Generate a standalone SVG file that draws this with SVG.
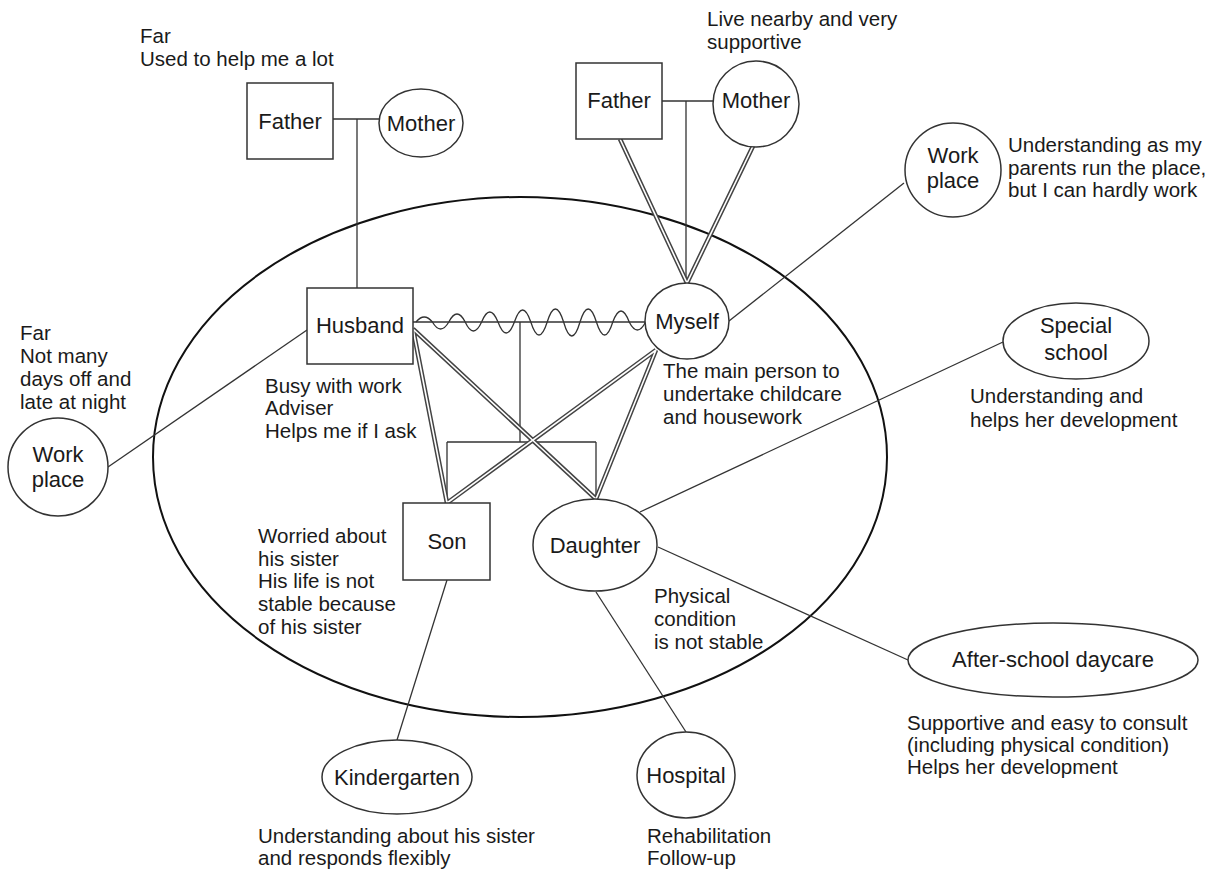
<svg xmlns="http://www.w3.org/2000/svg" width="1217" height="873" viewBox="0 0 1217 873">
<defs>
<style>
.t{font-family:"Liberation Sans",Arial,sans-serif;font-size:20.5px;fill:#1a1a1a}
.n{font-family:"Liberation Sans",Arial,sans-serif;font-size:22px;fill:#1a1a1a;text-anchor:middle}
.s{fill:#fff;stroke:#333;stroke-width:1.5}
.l{fill:none;stroke:#333;stroke-width:1.3}
.d1{fill:none;stroke:#444;stroke-width:4.6}
.d2{fill:none;stroke:#fff;stroke-width:1.6}
</style>
</defs>
<rect width="1217" height="873" fill="#fff"/>
<ellipse id="household" cx="520" cy="457" rx="367" ry="260" fill="none" stroke="#111" stroke-width="2"/>
<g id="connectors">
<path class="l" d="M333,119 H379 M357,119 V288"/>
<path class="l" d="M662,101 H713 M686,101 V283"/>
<path class="l" d="M413,322 H645"/>
<path class="l" d="M416,322 Q424.2,312 432.4,322 Q440.6,336 448.8,322 Q457,306 465.2,322 Q473.4,340 481.6,322 Q489.8,302 498,322 Q506.2,344 514.4,322 Q522.6,298 530.8,322 Q539,348 547.2,322 Q555.4,296 563.6,322 Q571.8,350 580,322 Q588.2,296 596.4,322 Q604.6,348 612.8,322 Q621,300 629.2,322 Q637.4,338 645.6,322"/>
<path class="l" d="M520,322 V442 M447,442 H596 M447,442 V503 M596,442 V499"/>
<path class="l" d="M307,330 L108,467"/>
<path class="l" d="M729,321 L904,183"/>
<path class="l" d="M640,512 L1003,342"/>
<path class="l" d="M658,547 L908,660"/>
<path class="l" d="M447,580 L397,740"/>
<path class="l" d="M596,592 L686,732"/>
<g id="strong">
<path class="d1" d="M620,139 L687,283 M755,142 L687,283 M413,329 L447,503 M413,329 L596,499 M656,350 L447,503 M656,350 L596,499"/>
<path class="d2" d="M620,139 L687,283 M755,142 L687,283 M413,329 L447,503 M413,329 L596,499 M656,350 L447,503 M656,350 L596,499"/>
</g>
</g>
<g id="father-husband-side">
<rect class="s" x="247" y="83" width="86" height="76"/>
<text class="n" x="290" y="129">Father</text>
</g>
<g id="mother-husband-side">
<ellipse class="s" cx="421" cy="123" rx="42" ry="34"/>
<text class="n" x="421" y="131">Mother</text>
</g>
<text class="t" x="140" y="43">Far</text>
<text class="t" x="140" y="66">Used to help me a lot</text>
<g id="father-my-side">
<rect class="s" x="576" y="63" width="86" height="76"/>
<text class="n" x="619" y="108">Father</text>
</g>
<g id="mother-my-side">
<ellipse class="s" cx="756" cy="104" rx="43" ry="43"/>
<text class="n" x="756" y="108">Mother</text>
</g>
<text class="t" x="707" y="26">Live nearby and very</text>
<text class="t" x="707" y="49">supportive</text>
<g id="husband">
<rect class="s" x="307" y="288" width="106" height="76"/>
<text class="n" x="360" y="333">Husband</text>
</g>
<text class="t" x="265" y="393">Busy with work</text>
<text class="t" x="265" y="415">Adviser</text>
<text class="t" x="265" y="438">Helps me if I ask</text>
<g id="myself">
<ellipse class="s" cx="687" cy="321" rx="42" ry="38"/>
<text class="n" x="687" y="329">Myself</text>
</g>
<text class="t" x="663" y="378">The main person to</text>
<text class="t" x="663" y="401">undertake childcare</text>
<text class="t" x="663" y="424">and housework</text>
<g id="workplace-right">
<ellipse class="s" cx="953" cy="170" rx="48" ry="47"/>
<text class="n" x="953" y="163">Work</text>
<text class="n" x="953" y="188">place</text>
</g>
<text class="t" x="1008" y="152">Understanding as my</text>
<text class="t" x="1008" y="175">parents run the place,</text>
<text class="t" x="1008" y="197">but I can hardly work</text>
<g id="workplace-left">
<ellipse class="s" cx="58" cy="467" rx="50" ry="49"/>
<text class="n" x="58" y="462">Work</text>
<text class="n" x="58" y="487">place</text>
</g>
<text class="t" x="20" y="340">Far</text>
<text class="t" x="20" y="363">Not many</text>
<text class="t" x="20" y="386">days off and</text>
<text class="t" x="20" y="409">late at night</text>
<g id="son">
<rect class="s" x="403" y="503" width="87" height="77"/>
<text class="n" x="447" y="549">Son</text>
</g>
<text class="t" x="258" y="543">Worried about</text>
<text class="t" x="258" y="566">his sister</text>
<text class="t" x="258" y="588">His life is not</text>
<text class="t" x="258" y="611">stable because</text>
<text class="t" x="258" y="634">of his sister</text>
<g id="daughter">
<ellipse class="s" cx="595" cy="545" rx="62" ry="46"/>
<text class="n" x="595" y="553">Daughter</text>
</g>
<text class="t" x="654" y="603">Physical</text>
<text class="t" x="654" y="626">condition</text>
<text class="t" x="654" y="649">is not stable</text>
<g id="special-school">
<ellipse class="s" cx="1076" cy="341" rx="73" ry="38"/>
<text class="n" x="1076" y="333">Special</text>
<text class="n" x="1076" y="360">school</text>
</g>
<text class="t" x="970" y="403">Understanding and</text>
<text class="t" x="970" y="427">helps her development</text>
<g id="after-school-daycare">
<ellipse class="s" cx="1053" cy="660" rx="145" ry="37"/>
<text class="n" x="1053" y="667">After-school daycare</text>
</g>
<text class="t" x="907" y="730">Supportive and easy to consult</text>
<text class="t" x="907" y="752">(including physical condition)</text>
<text class="t" x="907" y="774">Helps her development</text>
<g id="kindergarten">
<ellipse class="s" cx="397" cy="777" rx="75" ry="37"/>
<text class="n" x="397" y="785">Kindergarten</text>
</g>
<text class="t" x="258" y="843">Understanding about his sister</text>
<text class="t" x="258" y="865">and responds flexibly</text>
<g id="hospital">
<ellipse class="s" cx="686" cy="775" rx="49" ry="43"/>
<text class="n" x="686" y="783">Hospital</text>
</g>
<text class="t" x="647" y="843">Rehabilitation</text>
<text class="t" x="647" y="865">Follow-up</text>
</svg>
